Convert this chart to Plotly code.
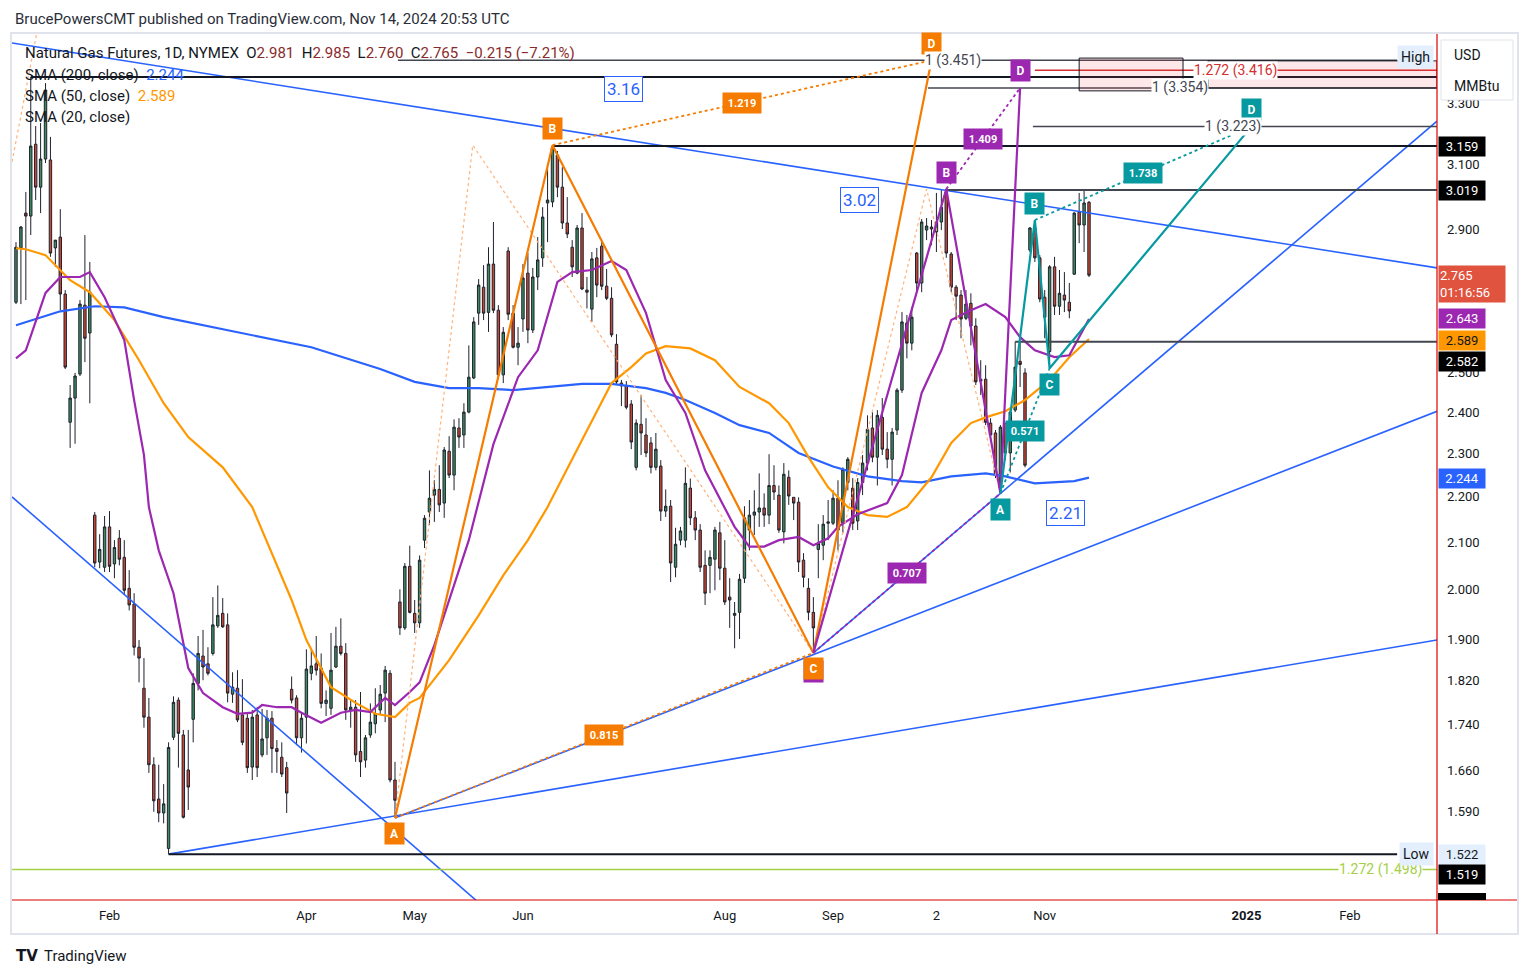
import numpy as np
import plotly.graph_objects as go

# ---------------- candle data (daily, bar index 0 = first visible bar) ----------------
opens = [2.689, 2.844, 2.948, 2.939, 3.165, 3.028, 3.117, 3.114, 2.844, 2.876, 2.712, 2.376, 2.436, 2.497, 2.681, 2.605,
         2.159, 2.057, 2.046, 2.133, 2.053, 2.108, 2.067, 2.002, 1.970, 1.884, 1.806, 1.753, 1.669, 1.611, 1.588, 1.531,
         1.717, 1.784, 1.721, 1.660, 1.749, 1.815, 1.867, 1.852, 1.872, 1.926, 1.951, 1.928, 1.795, 1.806, 1.757, 1.751,
         1.665, 1.757, 1.686, 1.716, 1.751, 1.697, 1.682, 1.664, 1.804, 1.788, 1.716, 1.753, 1.834, 1.852, 1.844, 1.778,
         1.769, 1.846, 1.886, 1.872, 1.766, 1.771, 1.692, 1.677, 1.721, 1.741, 1.766, 1.797, 1.834, 1.643, 1.974, 1.922,
         2.048, 1.951, 1.932,
         2.104, 2.166, 2.204, 2.217, 2.186, 2.306, 2.250, 2.362, 2.345, 2.401, 2.487, 2.659, 2.731, 2.661, 2.797, 2.667,
         2.495, 2.835, 2.659, 2.567, 2.643, 2.771, 2.613, 2.760, 2.815, 2.979, 2.982, 3.130, 3.028, 2.918, 2.846, 2.771,
         2.903, 2.723, 2.670, 2.815, 2.849, 2.734, 2.700, 2.575, 2.474, 2.467, 2.421, 2.268, 2.371, 2.345, 2.326, 2.268,
         2.271, 2.168, 2.179,
         2.046, 2.104, 2.104, 2.220, 2.153, 2.126, 2.050, 2.050, 2.063, 2.120, 2.044, 1.984, 1.947, 1.953, 2.023, 2.126,
         2.159, 2.166, 2.175, 2.159, 2.226, 2.204, 2.122, 2.245, 2.199, 2.188, 2.061, 2.002, 1.953, 2.084, 2.093, 2.141,
         2.141, 2.197, 2.141, 2.233, 2.220, 2.146, 2.233, 2.278, 2.362, 2.292, 2.388, 2.311, 2.287, 2.357,
         2.456, 2.632, 2.578, 2.829, 2.743, 2.897, 2.906, 2.891, 2.921, 3.013, 2.826, 2.731, 2.709, 2.645, 2.686, 2.624,
         2.479, 2.484, 2.374, 2.350, 2.220, 2.374, 2.302, 2.406, 2.530, 2.500,
         2.838, 2.903, 2.815, 2.703, 2.556, 2.789, 2.678, 2.709, 2.689, 2.768, 2.951, 2.912, 2.981]
highs = [2.861, 2.909, 3.013, 3.392, 3.225, 3.235, 3.371, 3.189, 2.867, 2.960, 2.723, 2.469, 2.500, 2.695, 2.882, 2.803,
         2.166, 2.117, 2.157, 2.168, 2.104, 2.126, 2.104, 2.040, 1.992, 1.898, 1.863, 1.788, 1.682, 1.669, 1.636, 1.708,
         1.791, 1.789, 1.730, 1.730, 1.834, 1.906, 1.918, 1.884, 1.984, 2.008, 1.982, 1.951, 1.836, 1.840, 1.823, 1.762,
         1.766, 1.771, 1.768, 1.766, 1.764, 1.712, 1.708, 1.674, 1.828, 1.793, 1.762, 1.880, 1.880, 1.906, 1.872, 1.802,
         1.912, 1.924, 1.941, 1.892, 1.784, 1.784, 1.799, 1.721, 1.778, 1.806, 1.812, 1.848, 1.840, 1.674, 2.000, 2.055,
         2.092, 1.978, 2.071,
         2.159, 2.261, 2.238, 2.273, 2.316, 2.342, 2.383, 2.386, 2.423, 2.572, 2.648, 2.754, 2.794, 2.846, 2.921, 2.681,
         2.621, 2.846, 2.681, 2.621, 2.797, 2.829, 2.786, 2.876, 2.966, 3.091, 3.162, 3.143, 3.091, 2.997, 2.867, 2.912,
         2.948, 2.760, 2.832, 2.844, 2.861, 2.783, 2.731, 2.602, 2.482, 2.479, 2.431, 2.383, 2.444, 2.386, 2.340, 2.350,
         2.285, 2.217, 2.193,
         2.131, 2.133, 2.268, 2.242, 2.168, 2.139, 2.082, 2.082, 2.133, 2.144, 2.104, 2.023, 1.974, 2.032, 2.179, 2.193,
         2.215, 2.254, 2.208, 2.299, 2.273, 2.226, 2.278, 2.261, 2.199, 2.199, 2.076, 2.023, 1.984, 2.139, 2.159, 2.193,
         2.215, 2.238, 2.268, 2.292, 2.243, 2.243, 2.297, 2.393, 2.401, 2.406, 2.436, 2.352, 2.362, 2.461,
         2.662, 2.654, 2.676, 2.832, 2.930, 2.933, 2.927, 3.010, 3.019, 3.022, 2.832, 2.737, 2.723, 2.723, 2.714, 2.645,
         2.533, 2.520, 2.386, 2.357, 2.369, 2.374, 2.413, 2.582, 2.582, 2.512,
         2.906, 2.927, 2.823, 2.723, 2.794, 2.818, 2.780, 2.774, 2.743, 2.951, 3.010, 3.019, 2.985]
lows = [2.684, 2.684, 2.695, 2.882, 2.988, 2.948, 3.104, 2.818, 2.789, 2.667, 2.510, 2.314, 2.324, 2.492, 2.528, 2.423,
        2.046, 2.044, 2.036, 2.036, 2.023, 2.050, 1.988, 1.957, 1.868, 1.817, 1.734, 1.655, 1.590, 1.573, 1.571, 1.522,
        1.712, 1.664, 1.579, 1.593, 1.708, 1.802, 1.821, 1.830, 1.868, 1.922, 1.922, 1.780, 1.779, 1.744, 1.703, 1.655,
        1.643, 1.648, 1.682, 1.686, 1.655, 1.655, 1.648, 1.588, 1.778, 1.703, 1.690, 1.706, 1.821, 1.830, 1.769, 1.755,
        1.757, 1.844, 1.868, 1.748, 1.734, 1.674, 1.648, 1.664, 1.716, 1.724, 1.757, 1.744, 1.639, 1.580, 1.908, 1.918,
        1.951, 1.912, 1.922,
        2.087, 2.137, 2.144, 2.166, 2.153, 2.243, 2.215, 2.314, 2.314, 2.398, 2.484, 2.627, 2.640, 2.608, 2.659, 2.485,
        2.474, 2.640, 2.564, 2.520, 2.608, 2.578, 2.605, 2.723, 2.789, 2.861, 2.966, 2.997, 2.900, 2.873, 2.760, 2.768,
        2.723, 2.672, 2.635, 2.703, 2.723, 2.695, 2.594, 2.469, 2.416, 2.408, 2.311, 2.261, 2.297, 2.292, 2.254, 2.261,
        2.146, 2.155, 2.015,
        2.025, 2.093, 2.088, 2.137, 2.104, 2.036, 1.968, 1.992, 1.998, 2.019, 1.968, 1.922, 1.882, 1.900, 2.013, 2.082,
        2.115, 2.133, 2.133, 2.139, 2.193, 2.120, 2.097, 2.182, 2.148, 2.036, 2.004, 1.937, 1.873, 2.023, 2.061, 2.104,
        2.137, 2.082, 2.120, 2.215, 2.126, 2.126, 2.204, 2.261, 2.280, 2.226, 2.297, 2.266, 2.226, 2.345,
        2.449, 2.538, 2.559, 2.717, 2.717, 2.867, 2.852, 2.832, 2.897, 2.815, 2.717, 2.640, 2.591, 2.640, 2.572, 2.469,
        2.444, 2.369, 2.333, 2.243, 2.208, 2.285, 2.256, 2.401, 2.464, 2.268,
        2.832, 2.803, 2.689, 2.591, 2.512, 2.654, 2.654, 2.662, 2.645, 2.766, 2.858, 2.832, 2.760]
closes = [2.846, 2.906, 2.939, 3.159, 3.028, 3.117, 3.347, 2.829, 2.867, 2.712, 2.515, 2.436, 2.492, 2.684, 2.591, 2.717,
          2.055, 2.084, 2.133, 2.048, 2.088, 2.063, 1.998, 1.968, 1.884, 1.863, 1.753, 1.669, 1.608, 1.588, 1.603, 1.699,
          1.780, 1.724, 1.581, 1.631, 1.815, 1.872, 1.846, 1.834, 1.928, 1.947, 1.924, 1.797, 1.808, 1.748, 1.708, 1.664,
          1.753, 1.664, 1.714, 1.751, 1.697, 1.692, 1.653, 1.621, 1.784, 1.716, 1.751, 1.842, 1.848, 1.840, 1.778, 1.784,
          1.840, 1.886, 1.872, 1.766, 1.771, 1.686, 1.674, 1.716, 1.744, 1.759, 1.795, 1.840, 1.643, 1.609, 1.922, 2.048,
          1.953, 1.932, 2.061,
          2.152, 2.197, 2.217, 2.182, 2.309, 2.250, 2.364, 2.340, 2.401, 2.489, 2.635, 2.737, 2.659, 2.797, 2.667, 2.495,
          2.607, 2.656, 2.567, 2.578, 2.757, 2.613, 2.760, 2.809, 2.936, 2.988, 3.153, 3.028, 2.918, 2.885, 2.789, 2.903,
          2.726, 2.717, 2.812, 2.737, 2.734, 2.700, 2.600, 2.477, 2.467, 2.413, 2.328, 2.374, 2.350, 2.302, 2.268, 2.311,
          2.168, 2.179, 2.055,
          2.095, 2.124, 2.231, 2.153, 2.126, 2.046, 1.992, 2.067, 2.126, 2.044, 1.974, 1.978, 1.951, 2.021, 2.153, 2.159,
          2.166, 2.175, 2.159, 2.226, 2.211, 2.126, 2.252, 2.202, 2.186, 2.057, 2.025, 1.953, 1.922, 2.097, 2.139, 2.144,
          2.197, 2.126, 2.263, 2.287, 2.141, 2.233, 2.278, 2.359, 2.292, 2.393, 2.311, 2.287, 2.352, 2.456,
          2.635, 2.578, 2.648, 2.743, 2.921, 2.909, 2.900, 2.921, 2.966, 2.829, 2.731, 2.706, 2.643, 2.684, 2.624, 2.477,
          2.484, 2.376, 2.345, 2.250, 2.364, 2.302, 2.401, 2.515, 2.522, 2.273,
          2.903, 2.815, 2.698, 2.648, 2.789, 2.678, 2.714, 2.695, 2.665, 2.948, 2.912, 2.979, 2.765]
bars = list(range(len(closes)))

# ---------------- moving averages (at sample bars) ----------------
sma200_bars = [0, 9, 16, 22, 30, 40, 50, 60, 74, 81, 88, 94, 101, 108, 115, 121, 128, 132, 136, 142, 147, 153, 159,
               166, 173, 180, 184, 190, 197, 201, 207, 215, 218]
sma200_vals = [2.626, 2.664, 2.678, 2.675, 2.648, 2.621, 2.594, 2.567, 2.510, 2.477, 2.461, 2.461, 2.456, 2.464, 2.472,
               2.472, 2.461, 2.449, 2.431, 2.399, 2.369, 2.350, 2.302, 2.270, 2.247, 2.236, 2.233, 2.247, 2.254, 2.247,
               2.231, 2.236, 2.244]
sma50_bars = [0, 2, 6, 11, 15, 20, 25, 30, 35, 40, 42, 48, 52, 56, 59, 64, 69, 73, 77, 80, 82, 88, 94, 99, 104, 108,
              115, 121, 125, 128, 132, 137, 142, 147, 153, 157, 161, 165, 169, 173, 177, 181, 186, 190, 194, 197, 201,
              205, 210, 214, 218]
sma50_vals = [2.843, 2.840, 2.823, 2.751, 2.717, 2.640, 2.533, 2.423, 2.340, 2.290, 2.268, 2.177, 2.076, 1.978, 1.898,
              1.808, 1.779, 1.759, 1.753, 1.779, 1.788, 1.859, 1.947, 2.029, 2.104, 2.177, 2.333, 2.474, 2.515, 2.551,
              2.570, 2.564, 2.533, 2.464, 2.423, 2.374, 2.292, 2.222, 2.177, 2.159, 2.155, 2.177, 2.245, 2.326, 2.374,
              2.388, 2.403, 2.431, 2.482, 2.541, 2.589]
sma20_bars = [0, 2, 6, 9, 13, 15, 18, 22, 24, 26, 27, 29, 32, 35, 38, 42, 45, 48, 50, 53, 56, 58, 62, 66, 69, 72, 75,
              77, 80, 82, 85, 88, 92, 97, 102, 106, 110, 113, 117, 121, 124, 128, 132, 136, 140, 146, 149, 152, 155,
              159, 162, 165, 167, 171, 177, 180, 184, 188, 190, 194, 197, 201, 204, 207, 211, 214, 218]
sma20_vals = [2.538, 2.559, 2.715, 2.760, 2.760, 2.774, 2.703, 2.586, 2.431, 2.297, 2.177, 2.082, 1.992, 1.844, 1.797,
              1.771, 1.759, 1.761, 1.775, 1.771, 1.771, 1.761, 1.743, 1.761, 1.766, 1.762, 1.788, 1.775, 1.799, 1.817,
              1.888, 1.978, 2.104, 2.323, 2.489, 2.559, 2.746, 2.774, 2.780, 2.806, 2.780, 2.659, 2.482, 2.399, 2.261,
              2.133, 2.090, 2.090, 2.104, 2.111, 2.093, 2.108, 2.133, 2.161, 2.186, 2.250, 2.449, 2.559, 2.640, 2.667,
              2.684, 2.648, 2.594, 2.559, 2.541, 2.546, 2.643]

# ---------------- drawings: (bar, price) anchors ----------------
trend_lines = [
    [(-0.8, 3.513), (288.7, 2.786)],
    [(-0.8, 2.200), (100.0, 1.410)],
    [(31, 1.522), (288.7, 1.898)],
    [(77, 1.580), (288.7, 2.403)],
    [(162, 1.873), (288.7, 3.241)],
]
orange_pts = [(77, 1.580), (109, 3.162), (162, 1.873), (186, 3.451)]
purple_pts = [(162, 1.873), (189, 3.022), (200, 2.208), (204, 3.354)]
teal_pts = [(200, 2.208), (207, 2.927), (210, 2.512), (251, 3.223)]
orange_ratios = ["0.815", "1.219"]
purple_ratios = ["0.707", "1.409"]
teal_ratios = ["0.571", "1.738"]
faint_pts = [(77, 1.580), (92.8, 3.162), (162, 1.873), (185, 3.022), (200, 2.208)]
faint_left = [(-0.8, 3.108), (4.9, 3.613)]

# horizontal levels: price, start bar, end bar, colour, width, label, label bar, label colour
levels = [
    (3.392, 3, 288.7, "#131722", 2, None, None, None),
    (3.451, 77.6, 280.6, "#434651", 1.5, "1 (3.451)", 190.4, "#434651"),
    (3.416, 207, 288.7, "#d32f2f", 1.5, "1.272 (3.416)", 247.7, "#d32f2f"),
    (3.354, 185.3, 288.7, "#434651", 1.5, "1 (3.354)", 236.5, "#434651"),
    (3.223, 206.6, 288.7, "#434651", 1.5, "1 (3.223)", 247.3, "#434651"),
    (3.159, 109, 288.7, "#131722", 2, None, None, None),
    (3.019, 189, 288.7, "#434651", 2, None, None, None),
    (2.582, 203, 288.7, "#434651", 2, None, None, None),
    (1.522, 31, 280.6, "#131722", 2, None, None, None),
    (1.498, -0.8, 288.7, "#a5cf45", 1.5, "1.272 (1.498)", 277.3, "#a5cf45"),
]
boxes = [((216.0, 3.459), (237.1, 3.344)), ((242.2, 3.449), (288.7, 3.354))]
blue_texts = [("3.16", 123.5, 3.350), ("3.02", 171.3, 2.988), ("2.21", 213.3, 2.164)]

month_tick_bars = [19, 59, 81, 103, 144, 166, 187, 209, 250, 271]
month_tick_text = ["Feb", "Apr", "May", "Jun", "Aug", "Sep", "2", "Nov", "<b>2025</b>", "Feb"]
price_ticks = [1.44, 1.59, 1.66, 1.74, 1.82, 1.90, 2.0, 2.1, 2.2, 2.3, 2.4, 2.5, 2.9, 3.1, 3.3]

# price-axis tags: text, price at tag centre, background, text colour
axis_tags = [
    ("3.159", 3.159, "#000000", "#ffffff"),
    ("3.019", 3.019, "#000000", "#ffffff"),
    ("2.643", 2.643, "#9c27b0", "#ffffff"),
    ("2.589", 2.586, "#ff9800", "#131722"),
    ("2.582", 2.530, "#000000", "#ffffff"),
    ("2.244", 2.242, "#2962ff", "#ffffff"),
    ("1.522", 1.522, "#e3effd", "#131722"),
    ("1.519", 1.490, "#000000", "#ffffff"),
]
last_tag = ("2.765<br>01:16:56", 2.740)

# ---------------- figure ----------------
W, H = 1531, 978
ML, MR, MT, MB = 12, 94, 34, 78
PW, PH = W - ML - MR, H - MT - MB
X_RANGE = [-0.81, 288.7]
Y_RANGE = [np.log10(1.4517), np.log10(3.546)]
FONT = "Roboto"


def px_x(px):
    return (px - ML) / PW


def px_y(py):
    return (H - MB - py) / PH


fig = go.Figure()
fig.add_trace(go.Candlestick(
    x=bars, open=opens, high=highs, low=lows, close=closes,
    increasing=dict(fillcolor="#3d8b5f", line=dict(color="#1e222d", width=1)),
    decreasing=dict(fillcolor="#cc4433", line=dict(color="#1e222d", width=1)),
    whiskerwidth=0, hoverinfo="skip", showlegend=False))


def add_line(xs, ys, color, width=1.5, dash="solid", opacity=1.0):
    fig.add_trace(go.Scatter(x=xs, y=ys, mode="lines", hoverinfo="skip", showlegend=False,
                             opacity=opacity, line=dict(color=color, width=width, dash=dash)))


add_line(sma200_bars, sma200_vals, "#2962ff", 2.2)
add_line(sma50_bars, sma50_vals, "#ff9800", 2.2)
add_line(sma20_bars, sma20_vals, "#9c27b0", 2.2)

# faint earlier pattern
add_line([p[0] for p in faint_pts], [p[1] for p in faint_pts], "#ffb27a", 1.2, "dot")
add_line([p[0] for p in faint_left], [p[1] for p in faint_left], "#ffb27a", 1.2, "dot")

for a, b in trend_lines:
    add_line([a[0], b[0]], [a[1], b[1]], "#2962ff", 1.6)

for price, x0, x1, col, wd, lab, lx, lc in levels:
    add_line([x0, x1], [price, price], col, wd)

for (bx0, p0), (bx1, p1) in boxes:
    fig.add_trace(go.Scatter(x=[bx0, bx1, bx1, bx0, bx0], y=[p0, p0, p1, p1, p0], mode="lines",
                             fill="toself", fillcolor="rgba(242,54,69,0.12)",
                             line=dict(color="#131722", width=1), hoverinfo="skip", showlegend=False))

patterns = [(orange_pts, "#f57c00", orange_ratios), (purple_pts, "#9c27b0", purple_ratios),
            (teal_pts, "#06999f", teal_ratios)]
for pts, col, ratios in patterns:
    add_line([pts[0][0], pts[2][0]], [pts[0][1], pts[2][1]], col, 1.8, "dot")
    add_line([pts[1][0], pts[3][0]], [pts[1][1], pts[3][1]], col, 1.8, "dot")
    add_line([p[0] for p in pts], [p[1] for p in pts], col, 2.2)

ann = []


def tag(x, price, text, bg, fg, yshift=0, size=11, width=None, height=None, bold=True):
    ann.append(dict(x=x, y=np.log10(price), xref="x", yref="y", text=f"<b>{text}</b>" if bold else text,
                    xanchor="center", yanchor="middle",
                    showarrow=False, bgcolor=bg, font=dict(color=fg, size=size, family=FONT),
                    borderpad=2, yshift=yshift, width=width, height=height))


# letters on the patterns
tag(purple_pts[0][0], purple_pts[0][1], "A", "#9c27b0", "white", -19, size=12, width=15, height=17)
for pts, col, ratios in patterns:
    names = ["A", "B", "C", "D"]
    for k, (bx, pr) in enumerate(pts):
        if col == "#9c27b0" and k in (0, 2):
            continue
        up = k % 2 == 1
        tag(bx, pr, names[k], col, "white", 17 if up else -16, size=12, width=15, height=17)
    # ratio labels at midpoints of A-C and B-D
    for (i0, i1), txt in zip([(0, 2), (1, 3)], ratios):
        mx = (pts[i0][0] + pts[i1][0]) / 2
        my = 10 ** ((np.log10(pts[i0][1]) + np.log10(pts[i1][1])) / 2)
        tag(mx, my, txt, col, "white", 0, size=11, width=34, height=16)

# level labels (the line is broken behind the text)
for price, x0, x1, col, wd, lab, lx, lc in levels:
    if lab:
        ann.append(dict(x=lx, y=np.log10(price), xref="x", yref="y", text=lab, showarrow=False,
                        xanchor="center", yanchor="middle", bgcolor="white", borderpad=0,
                        font=dict(color=lc, size=14, family=FONT)))

# blue boxed numbers
for txt, bx, pr in blue_texts:
    ann.append(dict(x=bx, y=np.log10(pr), xref="x", yref="y", text=txt, showarrow=False,
                    xanchor="center", yanchor="middle",
                    bgcolor="white", bordercolor="#2962ff", borderwidth=1, borderpad=2,
                    font=dict(color="#2962ff", size=17, family=FONT)))

# price axis tags
for txt, pr, bg, fg in axis_tags:
    ann.append(dict(x=1, y=np.log10(pr), xref="paper", yref="y", xanchor="left", yanchor="middle", xshift=1,
                    text=txt, showarrow=False, bgcolor=bg, width=44, height=17, borderpad=1,
                    font=dict(color=fg, size=13, family=FONT)))
ann.append(dict(x=1, y=np.log10(last_tag[1]), xref="paper", yref="y", xanchor="left", yanchor="middle", xshift=1,
                text=last_tag[0], showarrow=False, bgcolor="#e0533f", width=64, height=34, borderpad=1,
                align="left", font=dict(color="white", size=13, family=FONT)))
# High / Low markers
ann.append(dict(x=px_x(1434), y=np.log10(3.463), xref="paper", yref="y", xanchor="right", yanchor="middle",
                text="High", showarrow=False, bgcolor="#e3effd", borderpad=3,
                font=dict(color="#131722", size=14, family=FONT)))
ann.append(dict(x=px_x(1434), y=np.log10(1.522), xref="paper", yref="y", xanchor="right", yanchor="middle",
                text="Low", showarrow=False, bgcolor="#e3effd", borderpad=3,
                font=dict(color="#131722", size=14, family=FONT)))

# header, legend, footer
ann.append(dict(x=px_x(13), y=px_y(19), xref="paper", yref="paper", xanchor="left", yanchor="middle",
                text="BrucePowersCMT published on TradingView.com, Nov 14, 2024 20:53 UTC", showarrow=False,
                font=dict(color="#2a2e39", size=15, family=FONT)))
vc = "#8a2b2b"
leg0 = (f"Natural Gas Futures, 1D, NYMEX  O<span style='color:{vc}'>2.981</span>  H<span style='color:{vc}'>2.985</span>"
        f"  L<span style='color:{vc}'>2.760</span>  C<span style='color:{vc}'>2.765</span>  "
        f"<span style='color:{vc}'>−0.215 (−7.21%)</span>")
legend_rows = [(leg0, 53), ("SMA (200, close)  <span style='color:#2962ff'>2.244</span>", 75),
               ("SMA (50, close)  <span style='color:#ff9800'>2.589</span>", 96), ("SMA (20, close)", 117)]
for txt, py in legend_rows:
    ann.append(dict(x=px_x(23), y=px_y(py), xref="paper", yref="paper", xanchor="left", yanchor="middle",
                    text=txt, showarrow=False, font=dict(color="#131722", size=15, family=FONT)))
ann.append(dict(x=px_x(14), y=px_y(956), xref="paper", yref="paper", xanchor="left", yanchor="middle",
                text="<b>TV</b>", showarrow=False, font=dict(color="#131722", size=15, family="DejaVu Sans")))
ann.append(dict(x=px_x(42), y=px_y(956), xref="paper", yref="paper", xanchor="left", yanchor="middle",
                text="TradingView", showarrow=False, font=dict(color="#131722", size=15, family=FONT)))
ann.append(dict(x=px_x(1452), y=px_y(55), xref="paper", yref="paper", xanchor="left", yanchor="middle",
                text="USD", showarrow=False, font=dict(color="#131722", size=14, family=FONT)))
ann.append(dict(x=px_x(1452), y=px_y(86), xref="paper", yref="paper", xanchor="left", yanchor="middle",
                text="MMBtu", showarrow=False, font=dict(color="#131722", size=14, family=FONT)))

shapes = [
    dict(type="rect", xref="paper", yref="paper", x0=px_x(11), x1=px_x(1518), y0=px_y(934), y1=px_y(33),
         line=dict(color="#e0e3eb", width=2), fillcolor="rgba(0,0,0,0)", layer="below"),
    dict(type="rect", xref="paper", yref="paper", x0=px_x(1441), x1=px_x(1513), y0=px_y(100), y1=px_y(40),
         line=dict(color="#e0e3eb", width=1), fillcolor="white", layer="above"),
    dict(type="line", xref="paper", yref="paper", x0=1, x1=1, y0=px_y(934), y1=px_y(34),
         line=dict(color="#dd0000", width=1.2), layer="above"),
    dict(type="line", xref="paper", yref="paper", x0=0, x1=px_x(1517), y0=0, y1=0,
         line=dict(color="#dd0000", width=1.2), layer="above"),
    dict(type="rect", xref="paper", yref="paper", x0=px_x(1438), x1=px_x(1486), y0=0, y1=px_y(893),
         line=dict(width=0), fillcolor="#000000", layer="above"),
]

fig.update_layout(
    width=W, height=H, autosize=False,
    margin=dict(l=ML, r=MR, t=MT, b=MB, pad=0),
    paper_bgcolor="white", plot_bgcolor="white",
    showlegend=False, annotations=ann, shapes=shapes,
    font=dict(family=FONT, color="#131722"),
    xaxis=dict(range=X_RANGE, tickvals=month_tick_bars, ticktext=month_tick_text, showgrid=False,
               zeroline=False, showline=False, ticks="", tickfont=dict(size=13, color="#131722"),
               rangeslider=dict(visible=False), ticklabelstandoff=6, fixedrange=True),
    yaxis=dict(type="log", range=Y_RANGE, side="right", tickvals=price_ticks,
               ticktext=[f"{v:.3f}" for v in price_ticks], showgrid=False, zeroline=False, showline=False,
               ticks="", tickfont=dict(size=13, color="#131722"), ticklabelstandoff=9, fixedrange=True),
)

fig.write_html("out.html")
